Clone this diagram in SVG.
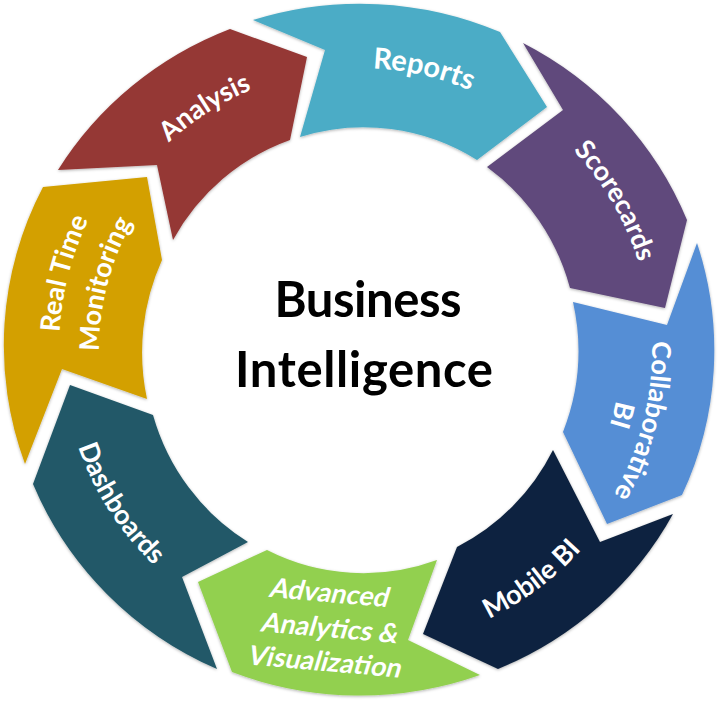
<svg xmlns="http://www.w3.org/2000/svg" width="720" height="707" viewBox="0 0 720 707">
<style>
.seg{filter:url(#sh);}
.lbl{font-family:"Lato","Liberation Sans",sans-serif;font-weight:700;font-size:27px;fill:#fff;text-anchor:middle;}
.ctr{font-family:"Lato","Liberation Sans",sans-serif;font-weight:700;font-size:49px;fill:#000;text-anchor:middle;}
</style>
<defs>
<filter id="sh" x="-10%" y="-10%" width="120%" height="120%">
<feDropShadow dx="0" dy="1" stdDeviation="1.5" flood-color="#000" flood-opacity="0.3"/>
</filter>
<path id="top282" d="M-244.2,-141 A282,282 0 0 1 244.2,-141"/>
<path id="top292" d="M-252.9,-146 A292,292 0 0 1 252.9,-146"/>
<path id="top301" d="M-260.7,-150.5 A301,301 0 0 1 260.7,-150.5"/>
<path id="top261" d="M-226,-130.5 A261,261 0 0 1 226,-130.5"/>
<path id="bot298" d="M-258.1,149 A298,298 0 0 0 258.1,149"/>
</defs>
<rect width="720" height="707" fill="#fff"/>

<g id="reports">
<path class="seg" fill="#4BACC6" d="M253,20 A354,347 0 0 1 500,32 L547,107 L477,160 A216,220 0 0 0 300,137 L325,50 Z"/>
<g transform="translate(360,350) rotate(12.8)"><text class="lbl" style="font-size:29px"><textPath href="#top282" startOffset="50%">Reports</textPath></text></g>
</g>

<g id="scorecards">
<path class="seg" fill="#604A7B" d="M523,43 A354,347 0 0 1 687,220 L665,308 L570,288 A216,220 0 0 0 487,167 L563,110 Z"/>
<g transform="translate(360,350) rotate(59.7)"><text class="lbl"><textPath href="#top292" startOffset="50%">Scorecards</textPath></text></g>
</g>

<g id="collaborative-bi">
<path class="seg" fill="#558ED5" d="M697,243 A354,347 0 0 1 682,495 L607,524 L563,432 A216,220 0 0 0 573,302 L667,325 Z"/>
<g transform="translate(360,350) rotate(104)">
<text class="lbl"><textPath href="#top292" startOffset="50%">Collaborative</textPath></text>
<text class="lbl"><textPath href="#top261" startOffset="50%">BI</textPath></text>
</g>
</g>

<g id="mobile-bi">
<path class="seg" fill="#10243F" d="M673,514 A354,347 0 0 1 498,669 L423,634 L457,547 A216,220 0 0 0 553,450 L600,542 Z"/>
<g transform="translate(360,350) rotate(-36.8)"><text class="lbl"><textPath href="#bot298" startOffset="50%">Mobile BI</textPath></text></g>
</g>

<g id="advanced-analytics">
<path class="seg" fill="#92D050" d="M480,675 A354,347 0 0 1 232,672 L198,582 L267,550 A216,220 0 0 0 437,560 L408,640 Z"/>
<g transform="translate(326,637) rotate(5) skewX(-12)">
<text class="lbl" x="-9" y="-35">Advanced</text>
<text class="lbl" x="2" y="0">Analytics &amp;</text>
<text class="lbl" x="7" y="34">Visualization</text>
</g>
</g>

<g id="dashboards">
<path class="seg" fill="#215868" d="M217,669 A354,347 0 0 1 33,484 L70,385 L153,415 A216,220 0 0 0 248,542 L182,577 Z"/>
<g transform="translate(360,350) rotate(57.4)"><text class="lbl"><textPath href="#bot298" startOffset="50%">Dashboards</textPath></text></g>
</g>

<g id="real-time-monitoring">
<path class="seg" fill="#D3A003" d="M25,464 A354,347 0 0 1 43,187 L147,177 L162,260 A216,220 0 0 0 147,399 L62,369 Z"/>
<g transform="translate(360,350) rotate(-75.5)">
<text class="lbl"><textPath href="#top301" startOffset="50%">Real Time</textPath></text>
<text class="lbl"><textPath href="#top261" startOffset="50%">Monitoring</textPath></text>
</g>
</g>

<g id="analysis">
<path class="seg" fill="#953735" d="M58,170 A354,347 0 0 1 230,29 L307,57 L290,140 A216,220 0 0 0 173,240 L157,165 Z"/>
<g transform="translate(360,350) rotate(-32.6)"><text class="lbl"><textPath href="#top282" startOffset="50%">Analysis</textPath></text></g>
</g>

<g id="business-intelligence">
<text class="ctr" x="368" y="317" textLength="187">Business</text>
<text class="ctr" x="364" y="387" textLength="258">Intelligence</text>
</g>

<g id="connectors"></g>
</svg>
